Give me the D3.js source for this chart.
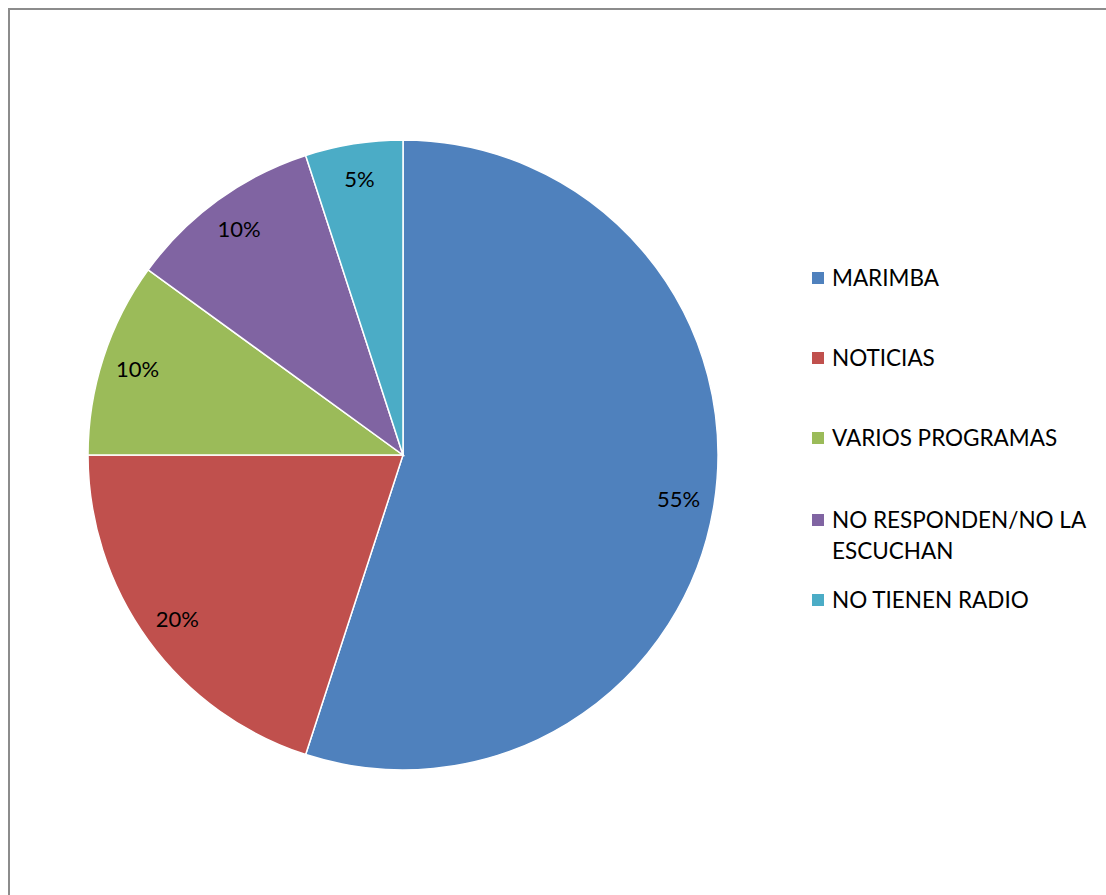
<!DOCTYPE html>
<html>
<head>
<meta charset="utf-8">
<script src="https://cdn.jsdelivr.net/npm/d3@7"></script>
<style>
  html, body { margin: 0; padding: 0; background: #fff; }
  svg text { font-family: Lato, "Open Sans", sans-serif; fill: #000; }
</style>
</head>
<body>
<div id="chart"></div>
<script>
// Pie chart: programas de radio
const categories = ['MARIMBA', 'NOTICIAS', 'VARIOS PROGRAMAS', 'NO RESPONDEN/NO LA ESCUCHAN', 'NO TIENEN RADIO'];
const values = [55, 20, 10, 10, 5];
const colors = ['#4F81BD', '#C0504D', '#9BBB59', '#8064A2', '#4BACC6'];
// legend lines (wrapped like the original)
const legendLines = [['MARIMBA'], ['NOTICIAS'], ['VARIOS PROGRAMAS'], ['NO RESPONDEN/NO LA', 'ESCUCHAN'], ['NO TIENEN RADIO']];

const width = 1106, height = 895;
const cx = 403, cy = 455, radius = 315;

const svg = d3.select('#chart')
    .append('svg')
    .attr('width', width)
    .attr('height', height);

// outer border
svg.append('rect')
    .attr('x', 9).attr('y', 9)
    .attr('width', width + 20).attr('height', height + 20)
    .style('fill', 'none')
    .style('stroke', '#8c8c8c')
    .style('stroke-width', 2);

const data = categories.map((c, i) => ({ name: c, value: values[i] }));

const pie = d3.pie().sort(null).value(d => d.value);
const arc = d3.arc().innerRadius(0).outerRadius(radius);
const labelArc = d3.arc().innerRadius(279).outerRadius(279);

const color = d3.scaleOrdinal().domain(categories).range(colors);

const g = svg.append('g').attr('transform', `translate(${cx},${cy})`);

const arcs = pie(data);

g.selectAll('path')
    .data(arcs)
    .enter().append('path')
    .attr('d', arc)
    .style('fill', d => color(d.data.name))
    .style('stroke', '#fff')
    .style('stroke-width', 1.5);

const total = d3.sum(values);
g.selectAll('text.lbl')
    .data(arcs)
    .enter().append('text')
    .attr('class', 'lbl')
    .attr('transform', d => `translate(${labelArc.centroid(d)})`)
    .attr('text-anchor', 'middle')
    .attr('dy', '0.36em')
    .style('font-size', '22px')
    .text(d => Math.round(d.data.value / total * 100) + '%');

// legend
const legendY = [278, 358, 438, 520, 600];
const legend = svg.append('g');
legendLines.forEach((lines, i) => {
    const item = legend.append('g').attr('transform', `translate(812,${legendY[i]})`);
    item.append('rect')
        .attr('x', 0).attr('y', -6)
        .attr('width', 12).attr('height', 12)
        .style('fill', colors[i]);
    lines.forEach((t, j) => {
        item.append('text')
            .attr('x', 20)
            .attr('y', j * 31)
            .attr('dy', '0.36em')
            .style('font-size', '22.5px')
            .text(t);
    });
});
</script>
</body>
</html>
